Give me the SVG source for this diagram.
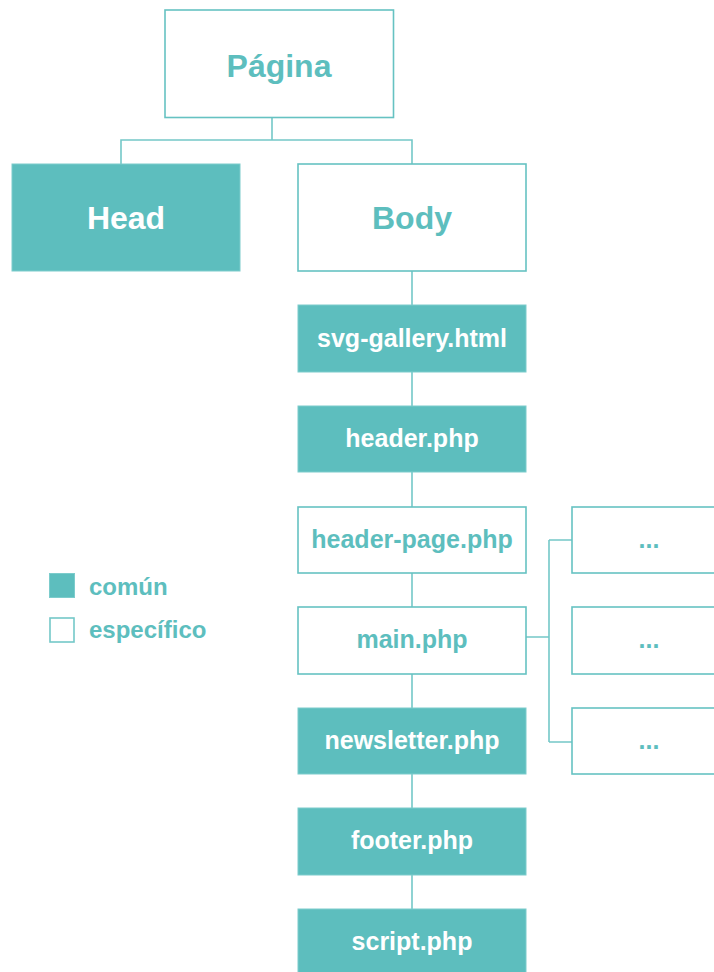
<svg xmlns="http://www.w3.org/2000/svg" width="714" height="972" viewBox="0 0 714 972">
<style>
.box{fill:#ffffff;stroke:#66C2C2;stroke-width:1.6}
.fill{fill:#5DBEBE;stroke:#7CCCCC;stroke-width:1}
.ln{fill:none;stroke:#74C8C8;stroke-width:1.6}
text{font-family:"Liberation Sans",Arial,sans-serif;font-weight:bold;text-anchor:middle}
.t{fill:#5DBEBE}
.w{fill:#ffffff}
.big{font-size:32px}
.sm{font-size:25px}
.lg{font-size:24px;text-anchor:start;fill:#5DBEBE}
</style>
<rect x="0" y="0" width="714" height="972" fill="#ffffff"/>
<g id="connectors">
<path class="ln" d="M272 117.5V140M121 164V140H412V164"/>
<path class="ln" d="M412 271V305M412 372V406M412 472V507M412 573V607M412 674V708M412 774V808M412 875V909"/>
<path class="ln" d="M526 637H549M549 540V742M549 540H572M549 742H572"/>
</g>
<g id="pagina"><rect class="box" x="165" y="10" width="228.5" height="107.5"/><text class="t big" x="279" y="77">Página</text></g>
<g id="head"><rect class="fill" x="12" y="164" width="228" height="107"/><text class="w big" x="126" y="229">Head</text></g>
<g id="body"><rect class="box" x="298" y="164" width="228" height="107"/><text class="t big" x="412" y="229">Body</text></g>
<g id="svg-gallery"><rect class="fill" x="298" y="305" width="228" height="67"/><text class="w sm" x="412" y="346.5">svg-gallery.html</text></g>
<g id="header"><rect class="fill" x="298" y="406" width="228" height="66"/><text class="w sm" x="412" y="447">header.php</text></g>
<g id="header-page"><rect class="box" x="298" y="507" width="228" height="66"/><text class="t sm" x="412" y="547.5">header-page.php</text></g>
<g id="main"><rect class="box" x="298" y="607" width="228" height="67"/><text class="t sm" x="412" y="648">main.php</text></g>
<g id="newsletter"><rect class="fill" x="298" y="708" width="228" height="66"/><text class="w sm" x="412" y="748.5">newsletter.php</text></g>
<g id="footer"><rect class="fill" x="298" y="808" width="228" height="67"/><text class="w sm" x="412" y="849">footer.php</text></g>
<g id="script"><rect class="fill" x="298" y="909" width="228" height="70"/><text class="w sm" x="412" y="950">script.php</text></g>
<g id="dots1"><rect class="box" x="572" y="507" width="160" height="66"/><text class="t sm" x="649" y="548">...</text></g>
<g id="dots2"><rect class="box" x="572" y="607" width="160" height="67"/><text class="t sm" x="649" y="648">...</text></g>
<g id="dots3"><rect class="box" x="572" y="708" width="160" height="66"/><text class="t sm" x="649" y="749">...</text></g>
<g id="legend">
<rect x="49.5" y="573.5" width="25" height="24" fill="#5DBEBE" stroke="#7CCCCC" stroke-width="1"/>
<text class="lg" x="89" y="594.5">común</text>
<rect x="50" y="618" width="24" height="24" fill="#ffffff" stroke="#74C8C8" stroke-width="1.6"/>
<text class="lg" x="89" y="638">específico</text>
</g>
</svg>
